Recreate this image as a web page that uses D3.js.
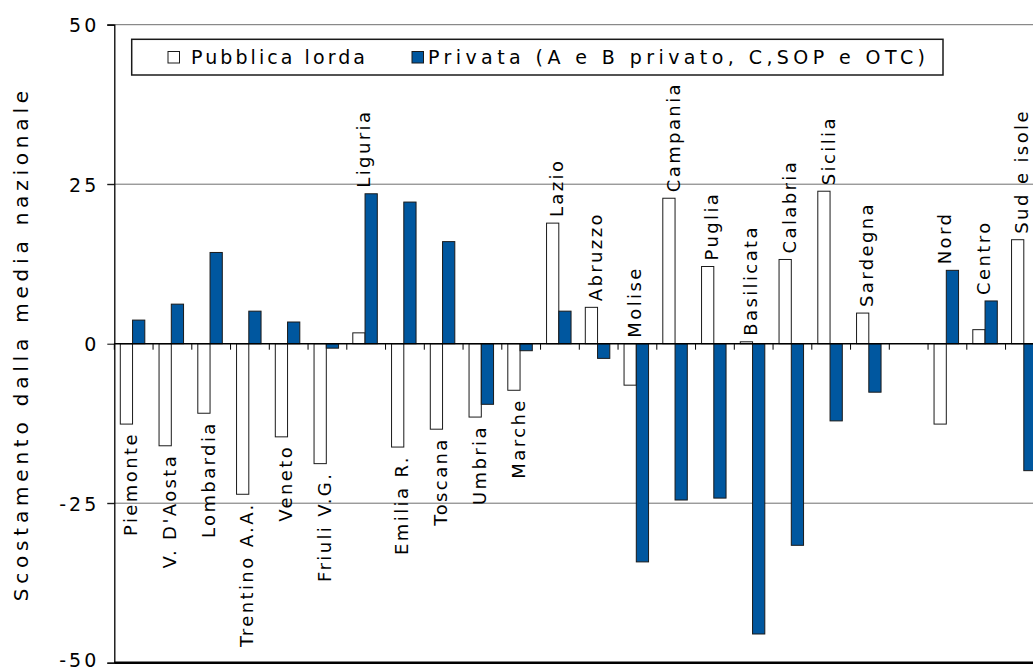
<!DOCTYPE html>
<html>
<head>
<meta charset="utf-8">
<script src="https://cdn.jsdelivr.net/npm/d3@7/dist/d3.min.js"></script>
<style>
  html, body { margin: 0; padding: 0; background: #fff; }
  svg { display: block; font-family: "DejaVu Sans", Verdana, sans-serif; }
</style>
</head>
<body>
<svg id="chart" width="1033" height="669"></svg>
<script>
// ---- data ----
const categories = ["Piemonte", "V. D'Aosta", "Lombardia", "Trentino A.A.", "Veneto", "Friuli V.G.",
  "Liguria", "Emilia R.", "Toscana", "Umbria", "Marche", "Lazio", "Abruzzo", "Molise",
  "Campania", "Puglia", "Basilicata", "Calabria", "Sicilia", "Sardegna", "",
  "Nord", "Centro", "Sud e isole"];
const pubblica = [-12.6, -16.0, -10.9, -23.6, -14.6, -18.8,
  1.7, -16.2, -13.4, -11.5, -7.3, 18.9, 5.7, -6.5,
  22.8, 12.1, 0.3, 13.2, 23.9, 4.8, null,
  -12.6, 2.2, 16.3];
const privata = [3.7, 6.2, 14.3, 5.1, 3.4, -0.7,
  23.5, 22.2, 16.0, -9.5, -1.1, 5.1, -2.3, -34.2,
  -24.5, -24.2, -45.5, -31.6, -12.1, -7.6, null,
  11.5, 6.7, -19.9];
// where each category name sits: "below" the lowest bar end or "above" the highest
const labelSide = ["below", "below", "below", "below", "below", "below",
  "above", "below", "below", "below", "below", "above", "above", "above",
  "above", "above", "above", "above", "above", "above", "none",
  "above", "above", "above"];
const seriesNames = ["Pubblica lorda", "Privata (A e B privato, C,SOP e OTC)"];
const yTicks = [-50, -25, 0, 25, 50];
const yTitle = "Scostamento dalla media nazionale";

// ---- layout ----
const svg = d3.select("#chart");
const left = 114.3, step = 38.75;
const x0 = d3.scaleBand().domain(d3.range(categories.length))
  .range([left, left + step * categories.length]).padding(0);
const x1 = d3.scaleBand().domain([0, 1]).range([6, 30.5]).padding(0);
const y = d3.scaleLinear().domain([-50, 50]).range([662.7, 24.7]);
const colors = ["#ffffff", "#00579f"];

// gridlines
svg.append("g").selectAll("line").data(yTicks.filter(t => t === 25 || t === -25 || t === 50))
  .join("line")
  .attr("x1", left - 7).attr("x2", 1033)
  .attr("y1", d => y(d)).attr("y2", d => y(d))
  .attr("stroke", "#6e6e6e").attr("stroke-width", 1);

// bottom line at -50
svg.append("line").attr("x1", left).attr("x2", 1033)
  .attr("y1", y(-50)).attr("y2", y(-50))
  .attr("stroke", "#000").attr("stroke-width", 2.5);

// y axis
const yAxis = d3.axisLeft(y).tickValues(yTicks).tickSize(7).tickFormat(d => String(d));
const gy = svg.append("g").attr("transform", `translate(${left},0)`).call(yAxis);
gy.select(".domain").attr("stroke", "#000").attr("stroke-width", 1.3);
gy.selectAll(".tick line").attr("stroke", "#000");
gy.selectAll(".tick text").attr("font-size", 19).attr("fill", "#000")
  .attr("x", -15).attr("dy", d => d === -50 ? "0.2em" : "0.36em")
  .attr("font-family", "DejaVu Sans")
  .style("letter-spacing", "3px");

// bars
const groups = svg.append("g").selectAll("g").data(categories.map((c, i) => i))
  .join("g").attr("transform", i => `translate(${x0(i)},0)`);
groups.selectAll("rect").data(i => [pubblica[i], privata[i]].map((v, s) => ({ v, s })).filter(d => d.v !== null))
  .join("rect")
  .attr("x", d => x1(d.s))
  .attr("width", x1.bandwidth())
  .attr("y", d => y(Math.max(0, d.v)))
  .attr("height", d => Math.abs(y(d.v) - y(0)))
  .attr("fill", d => colors[d.s])
  .attr("stroke", "#1a1a1a").attr("stroke-width", 1);

// zero axis with ticks at category boundaries
svg.append("line").attr("x1", left).attr("x2", 1033)
  .attr("y1", y(0)).attr("y2", y(0))
  .attr("stroke", "#000").attr("stroke-width", 1.5);
svg.append("g").selectAll("line").data(d3.range(categories.length + 1))
  .join("line")
  .attr("x1", i => left + i * x0.step()).attr("x2", i => left + i * x0.step())
  .attr("y1", y(0)).attr("y2", y(0) + 6)
  .attr("stroke", "#000").attr("stroke-width", 1);

// category labels
svg.append("g").selectAll("text").data(categories.map((c, i) => i).filter(i => labelSide[i] !== "none"))
  .join("text")
  .attr("font-size", 18)
  .style("letter-spacing", "2.4px")
  .attr("fill", "#000")
  .attr("dominant-baseline", "central")
  .attr("text-anchor", i => labelSide[i] === "below" ? "end" : "start")
  .attr("transform", i => {
    const cx = x0(i) + x0.bandwidth() / 2 - 3;
    const vals = [0, pubblica[i], privata[i]];
    const yy = labelSide[i] === "below" ? y(d3.min(vals)) + 8 : y(d3.max(vals)) - 6;
    return `translate(${cx},${yy}) rotate(-90)`;
  })
  .text(i => categories[i]);

// y-axis title
svg.append("text")
  .attr("transform", `translate(21,${y(0)}) rotate(-90)`)
  .attr("text-anchor", "middle").attr("dominant-baseline", "central")
  .attr("font-size", 20).style("letter-spacing", "4.8px")
  .attr("fill", "#000")
  .text(yTitle);

// legend
const lg = svg.append("g");
lg.append("rect").attr("x", 131.7).attr("y", 39.3).attr("width", 811.3).attr("height", 35.7)
  .attr("fill", "#fff").attr("stroke", "#1a1a1a").attr("stroke-width", 1.5);
const legendItems = [{ sq: 168, tx: 191, w: 174 }, { sq: 412, tx: 428, w: 497 }];
legendItems.forEach((it, s) => {
  lg.append("rect").attr("x", it.sq).attr("y", 51.5).attr("width", 11.5).attr("height", 11.5)
    .attr("fill", colors[s]).attr("stroke", "#1a1a1a").attr("stroke-width", 1);
  lg.append("text").attr("x", it.tx).attr("y", 64)
    .attr("font-size", 19).attr("fill", "#000")
    .attr("textLength", it.w).attr("lengthAdjust", "spacing")
    .text(seriesNames[s]);
});
</script>
</body>
</html>
